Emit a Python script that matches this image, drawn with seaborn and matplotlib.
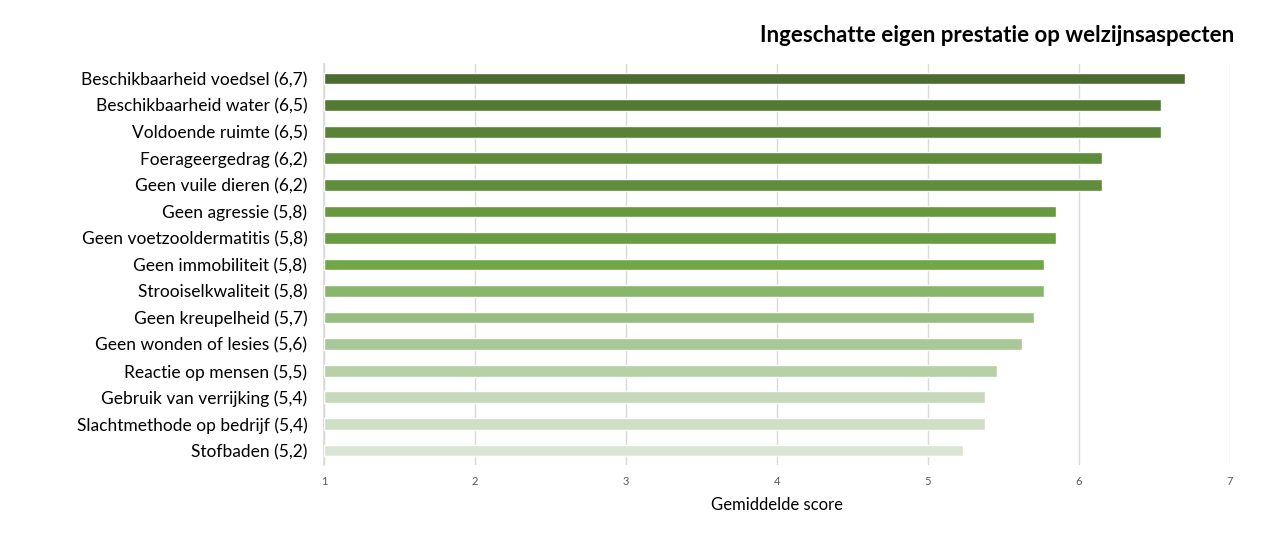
import matplotlib
matplotlib.use("Agg")
import matplotlib.pyplot as plt
import seaborn as sns
import pandas as pd

categories = [
    "Beschikbaarheid voedsel (6,7)",
    "Beschikbaarheid water (6,5)",
    "Voldoende ruimte (6,5)",
    "Foerageergedrag (6,2)",
    "Geen vuile dieren (6,2)",
    "Geen agressie (5,8)",
    "Geen voetzooldermatitis (5,8)",
    "Geen immobiliteit (5,8)",
    "Strooiselkwaliteit (5,8)",
    "Geen kreupelheid (5,7)",
    "Geen wonden of lesies (5,6)",
    "Reactie op mensen (5,5)",
    "Gebruik van verrijking (5,4)",
    "Slachtmethode op bedrijf (5,4)",
    "Stofbaden (5,2)",
]
scores = [6.70, 6.54, 6.54, 6.15, 6.15, 5.85, 5.85, 5.77, 5.77, 5.70, 5.62, 5.46, 5.38, 5.38, 5.23]
colors = ["#4B6B30", "#537A32", "#588236", "#5E8B3A", "#5F8D3B", "#66993E", "#689C40",
          "#70A845", "#8AB56D", "#97BD80", "#A9C797", "#B7D0A8", "#C6D9BA", "#CFDFC6", "#D9E4D2"]
xticks = [1, 2, 3, 4, 5, 6, 7]

sns.set_theme(style="white")
plt.rcParams["font.family"] = ["Lato", "DejaVu Sans"]

df = pd.DataFrame({"cat": categories, "score": scores})

fig = plt.figure(figsize=(12.8, 5.47), dpi=100)
ax = fig.add_axes([324 / 1280, 1 - 465 / 547, (1230 - 324) / 1280, (465 - 64) / 547])

sns.barplot(data=df, x="score", y="cat", hue="cat", palette=colors, legend=False,
            orient="h", width=0.44, saturation=1, ax=ax, zorder=3)
for p in ax.patches:
    w = p.get_width()
    p.set_x(1)
    p.set_width(w - 1)

ax.set_xlim(1, 7)
ax.set_ylim(len(categories) - 0.5 + 0.05, -0.5 - 0.05)
ax.set_xticks(xticks)
ax.set_xticklabels([str(t) for t in xticks], fontsize=8, color="#595959")
ax.tick_params(axis="x", length=0, pad=8)
ax.tick_params(axis="y", length=0, pad=12, labelsize=12.5, labelcolor="black")
ax.grid(axis="x", color="#D9D9D9", linewidth=1, linestyle="-", zorder=0)
for s in ["top", "right", "bottom"]:
    ax.spines[s].set_visible(False)
ax.spines["left"].set_color("#D9D9D9")
ax.set_ylabel("")
ax.set_xlabel("Gemiddelde score", fontsize=12, color="black", labelpad=7)

fig.text(1234 / 1280, 1 - 36 / 547, "Ingeschatte eigen prestatie op welzijnsaspecten",
         ha="right", va="center", fontsize=16, fontweight="bold", color="black")

fig.savefig("out.png", dpi=100, facecolor="white")
